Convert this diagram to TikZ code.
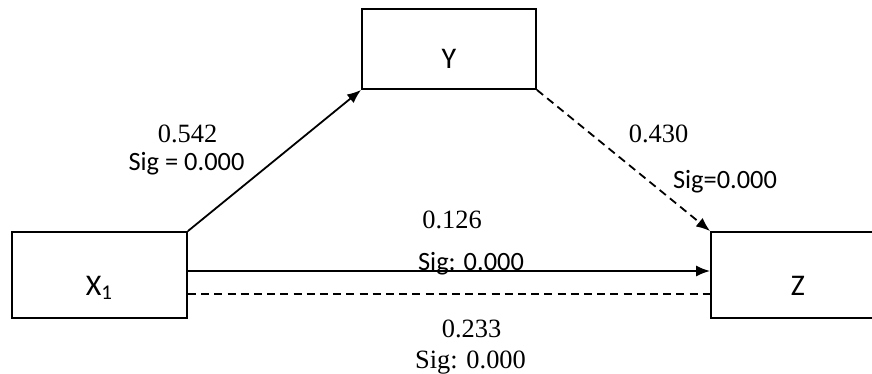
\documentclass[tikz,border=0pt]{standalone}
\usepackage{fontspec}
\setmainfont{Liberation Serif}
\setsansfont{Carlito}
\usetikzlibrary{arrows.meta}

\begin{document}
\begin{tikzpicture}[x=0.5pt, y=-0.5pt, >={Latex[length=7pt,width=5.5pt]},
  every node/.style={font=\fontsize{13.2}{16}\selectfont},
  varbox/.style={draw, line width=0.9pt, rectangle, inner sep=0pt, text height=20pt, text depth=0pt,
    font=\sffamily\fontsize{15}{18}\selectfont},
  link/.style={line width=0.9pt},
  dashlink/.style={line width=0.9pt, dash pattern=on 4pt off 2.6pt},
  lab/.style={anchor=base, inner sep=0pt},
  sans/.style={font=\sffamily\fontsize{13.2}{16}\selectfont}]
\clip (0,0) rectangle (872,374);
\node[name=X1, varbox, minimum width=87.5pt, minimum height=43pt] at (99.5,275) {X\textsubscript{1}};
\node[name=Y, varbox, minimum width=87pt, minimum height=40pt] at (449,49) {Y};
\node[name=Z, varbox, minimum width=87pt, minimum height=43pt] at (798,275) {Z};

\coordinate (direct) at (0,271);
\coordinate (total) at (0,294);

\node[name=a_coef, lab] at (187.5,142) {0.542};
\node[name=a_sig, lab, sans] at (186.5,170) {Sig = 0.000};
\node[name=b_coef, lab] at (658.5,142) {0.430};
\node[name=b_sig, lab, sans] at (725,188) {Sig=0.000};
\node[name=c_coef, lab] at (452,228) {0.126};
\node[name=c_sig, lab, sans] at (471,270) {Sig: 0.000};
\node[name=t_coef, lab] at (471.5,337) {0.233};
\node[name=t_sig, lab] at (470.5,368) {Sig: 0.000};

\draw(X1.north east) edge[link, ->](Y.south west);
\draw(Y.south east) edge[dashlink, ->](Z.north west);
\draw(X1.east |- direct) edge[link, ->](Z.west |- direct);
\draw(X1.east |- total) edge[dashlink](Z.west |- total);
\end{tikzpicture}
\end{document}
